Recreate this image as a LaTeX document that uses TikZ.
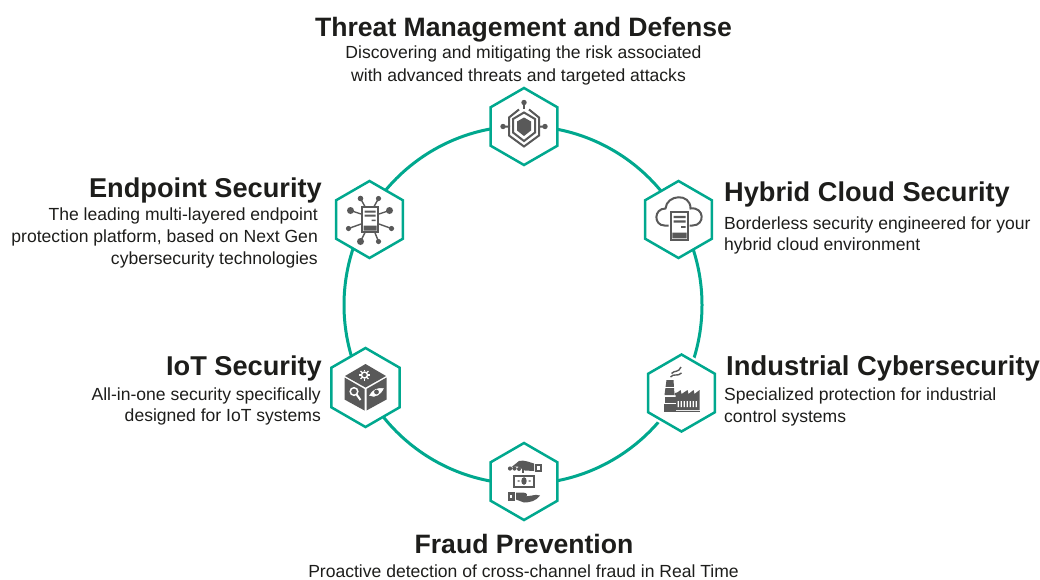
\documentclass[tikz,border=0pt]{standalone}
\usepackage{fontspec}
\setmainfont{Liberation Sans}
\usetikzlibrary{shapes.geometric}
\definecolor{ring}{HTML}{00A88E}
\definecolor{ink}{HTML}{1D1D1B}
\definecolor{icon}{HTML}{595959}
\tikzset{
  hexnode/.style={regular polygon,regular polygon sides=6,shape border rotate=30,draw=ring,line width=2.5pt,fill=white,minimum size=77pt,inner sep=0pt,outer sep=0pt},
  ttl/.style={font=\fontsize{27.2}{30}\bfseries\selectfont,text=ink,inner sep=0pt},
  ttlb/.style={font=\fontsize{26.6}{30}\bfseries\selectfont,text=ink,inner sep=0pt},
  body/.style={font=\fontsize{17.55}{22}\selectfont,text=ink,inner sep=0pt},
  ic/.style={draw=icon,line width=2pt},
  icf/.style={fill=icon,draw=none}
}
\newcommand{\iconShield}{%
  \fill[icon] (0,-9) -- (7,-5) -- (7,4) -- (0,9.5) -- (-7,4) -- (-7,-5) -- cycle;
  \draw[ic] (0,-14) -- (11,-7.5) -- (11,6) -- (0,14.5) -- (-11,6) -- (-11,-7.5) -- cycle;
  \draw[ic] (0,-18) -- (0,-24);
  \draw[ic] (-15,0) -- (-15,-9) -- (-5,-17);
  \draw[ic] (15,0) -- (15,-9) -- (5,-17);
  \draw[ic] (-21,0) -- (-15,0) -- (-15,9) -- (0,20) -- (15,9) -- (15,0) -- (21,0);
  \fill[icon] (0,-24) circle (2.7) (-21,0) circle (2.7) (21,0) circle (2.7);
}
\newcommand{\iconServer}[1]{%
  \fill[white] (-8,-13) rectangle (9,13);
  \draw[icon,line width=2.2pt] (-7.5,-12.5) rectangle (8.5,12.5);
  \fill[icon] (-5,-9) rectangle (6,-7) (-5,-5) rectangle (6,-3) (2,0) rectangle (6,1.6) (-6,6) rectangle (7,11);
}
\newcommand{\iconNet}{%
  \draw[ic,line width=1.4pt] (-9,-21) -- (-4,-12) (9,-21) -- (4,-12) (-19,-9) -- (-7,-5) (20,-9) -- (8,-5)
     (-21,9) -- (-7,4) (22,9) -- (8,4) (-9,22) -- (-4,12) (9,22) -- (5,12);
  \fill[icon] (-9,-21) circle (2.8) (9,-21) circle (2.6) (-19,-9) circle (3.5) (20,-9) circle (3.5)
     (-21,9) circle (2.6) (22,9) circle (2.6) (-9,22) circle (3.5) (9,22) circle (2.6);
  \iconServer{}
}
\newcommand{\iconCloud}{%
  \draw[icon,line width=2pt,fill=white] (-10,6) -- (-14,6) .. controls (-25,6) and (-25,-11) .. (-13,-11)
     .. controls (-12,-25) and (12,-27) .. (12,-11) .. controls (26,-13) and (27,6) .. (14,6) -- (11,6);
  \begin{scope}[shift={(0.5,6.5)},yscale=1.12,xscale=1.1]\iconServer{}\end{scope}
}
\newcommand{\iconCube}{%
  \fill[icon] (0,-23.5) -- (20.5,-11.5) -- (0,0) -- (-20.5,-11.5) -- cycle;
  \fill[icon] (-21,-10) -- (-1,1.5) -- (-1,23) -- (-21,12) -- cycle;
  \fill[icon] (21,-10) -- (1,1.5) -- (1,23) -- (21,12) -- cycle;
  \draw[white,line width=1.4pt] (-1,-12.5) circle (3);
  \foreach \a in {0,45,...,315} \draw[white,line width=1.2pt] (-1,-12.5) ++(\a:3.6) -- ++(\a:1.9);
  \draw[white,line width=1.5pt] (-11.5,4) circle (3.8);
  \draw[white,line width=2pt] (-9,6.8) -- (-5,12.5);
  \draw[white,fill=white] (4,8) .. controls (7,2) and (13,0) .. (18,1) .. controls (16,6) and (10,11) .. (4,8) -- cycle;
  \fill[icon] (11,4.5) circle (2.4);
}
\newcommand{\iconFactory}{%
  \fill[icon] (-15,-13) -- (-8,-13) -- (-7,2) -- (-17,2) -- cycle;
  \fill[white] (-17,-6) rectangle (-5,-4.6);
  \fill[icon] (-7,2) -- (-7,0) -- (-1,-1) -- (-1,2) -- cycle;
  \fill[icon] (-6,5) -- (-6,1) -- (-1,-3) -- (0,1) -- (6,-3) -- (7,1) -- (12,-3) -- (13,1) -- (18,-3) -- (18,17) -- (-6,17) -- cycle;
  \fill[icon] (-18,17.5) rectangle (18,19);
  \fill[icon] (-18,11) rectangle (-6,19);
  \fill[icon] (-17,4) rectangle (-6,9.5);
  \fill[white] (-17.5,9.5) rectangle (-6,11);
  \fill[white] (-4,8) rectangle (-2.7,14) (-1,8) rectangle (0.3,14) (2,8) rectangle (3.3,14)
     (5,8) rectangle (6.3,14) (8,8) rectangle (9.3,14) (11,8) rectangle (12.3,14) (14,8) rectangle (15.3,14);
  \draw[icon,line width=1.4pt] (-11,-16) .. controls (-8,-20) and (-4,-16) .. (0,-20);
  \draw[icon,line width=1.4pt] (-10,-19.5) .. controls (-7,-23) and (-3,-20) .. (-0.5,-26);
}
\newcommand{\iconMoney}{%
  \fill[icon] (-13,-14) -- (-5,-20.5) .. controls (0,-22) and (6,-19) .. (10,-18) -- (10,-10.5) -- (1,-11) .. controls (-3,-12) and (-4,-16) .. (-9,-15) -- cycle;
  \fill[icon] (-14,-13) circle (2.1) (-9.5,-13) circle (2.1) (-5,-12.5) circle (2);
  \draw[icon,line width=1.1pt] (-1,-14) -- (-1,-9);
  \fill[icon] (11,-18) rectangle (17.5,-10);
  \fill[white] (13,-16) rectangle (15.5,-12);
  \fill[icon] (-11,-7) rectangle (11,6);
  \fill[white] (-8.8,-5) rectangle (8.8,4);
  \fill[icon] (0,-0.5) ellipse (2.7 and 3.8);
  \fill[icon] (-6.5,-1.2) rectangle (-4.5,0.2) (4.5,-1.2) rectangle (6.5,0.2);
  \fill[icon] (-16,10.5) rectangle (-9,19);
  \fill[white] (-14.2,13) rectangle (-12,16.5);
  \fill[icon] (-8,11) -- (-1,11) .. controls (4,11) and (4,15) .. (1,15) -- (8,14) .. controls (12,13) and (14,13.5) .. (16,14)
     .. controls (12,19.5) and (6,21) .. (0,21) -- (-8,18) -- cycle;
}
\begin{document}
\begin{tikzpicture}[x=1pt,y=-1pt]
\useasboundingbox (0,0) rectangle (1040,579);
\node[circle,draw=ring,line width=3pt,minimum size=358pt,inner sep=0pt] (ringc) at (523,305) {};
\node[hexnode] (threat) at (524,126.5) {};
\node[hexnode] (endpoint) at (369.5,219.5) {};
\node[hexnode] (hybrid) at (678.5,219.5) {};
\node[hexnode,minimum size=79pt] (iot) at (365.5,387.5) {};
\node[hexnode,preaction={draw=white,line width=7pt}] (industrial) at (681.5,393) {};
\node[hexnode] (fraud) at (524,481.5) {};
\begin{scope}[shift={(524,126.5)}]\iconShield\end{scope}
\begin{scope}[shift={(369.5,219.5)}]\iconNet\end{scope}
\begin{scope}[shift={(678.5,219.5)}]\iconCloud\end{scope}
\begin{scope}[shift={(365.5,387.5)}]\iconCube\end{scope}
\begin{scope}[shift={(681.5,393)}]\iconFactory\end{scope}
\begin{scope}[shift={(524,481.5)}]\iconMoney\end{scope}
\node[ttlb,anchor=base] (t1) at (523.5,36) {Threat Management and Defense};
\node[body,anchor=base] (b1a) at (523.5,58.5) {Discovering and mitigating the risk associated};
\node[body,anchor=base] (b1b) at (518.5,81) {with advanced threats and targeted attacks};
\node[ttl,anchor=base east] (t2) at (322,197) {Endpoint Security};
\node[body,anchor=base east] (b2a) at (318,220) {The leading multi-layered endpoint};
\node[body,anchor=base east] (b2b) at (318,242) {protection platform, based on Next Gen};
\node[body,anchor=base east] (b2c) at (318,264) {cybersecurity technologies};
\node[ttl,anchor=base west] (t3) at (724,201) {Hybrid Cloud Security};
\node[body,anchor=base west] (b3a) at (724,229) {Borderless security engineered for your};
\node[body,anchor=base west] (b3b) at (724,250) {hybrid cloud environment};
\node[ttl,anchor=base east] (t4) at (322,375) {IoT Security};
\node[body,anchor=base east] (b4a) at (321,400) {All-in-one security specifically};
\node[body,anchor=base east] (b4b) at (321,421) {designed for IoT systems};
\node[ttl,anchor=base west,font=\fontsize{27.4}{30}\bfseries\selectfont] (t5) at (726,375) {Industrial Cybersecurity};
\node[body,anchor=base west] (b5a) at (724,400) {Specialized protection for industrial};
\node[body,anchor=base west] (b5b) at (724,422) {control systems};
\node[ttlb,anchor=base] (t6) at (524,553) {Fraud Prevention};
\node[body,anchor=base] (b6) at (523.5,577) {Proactive detection of cross-channel fraud in Real Time};
\end{tikzpicture}
\end{document}
